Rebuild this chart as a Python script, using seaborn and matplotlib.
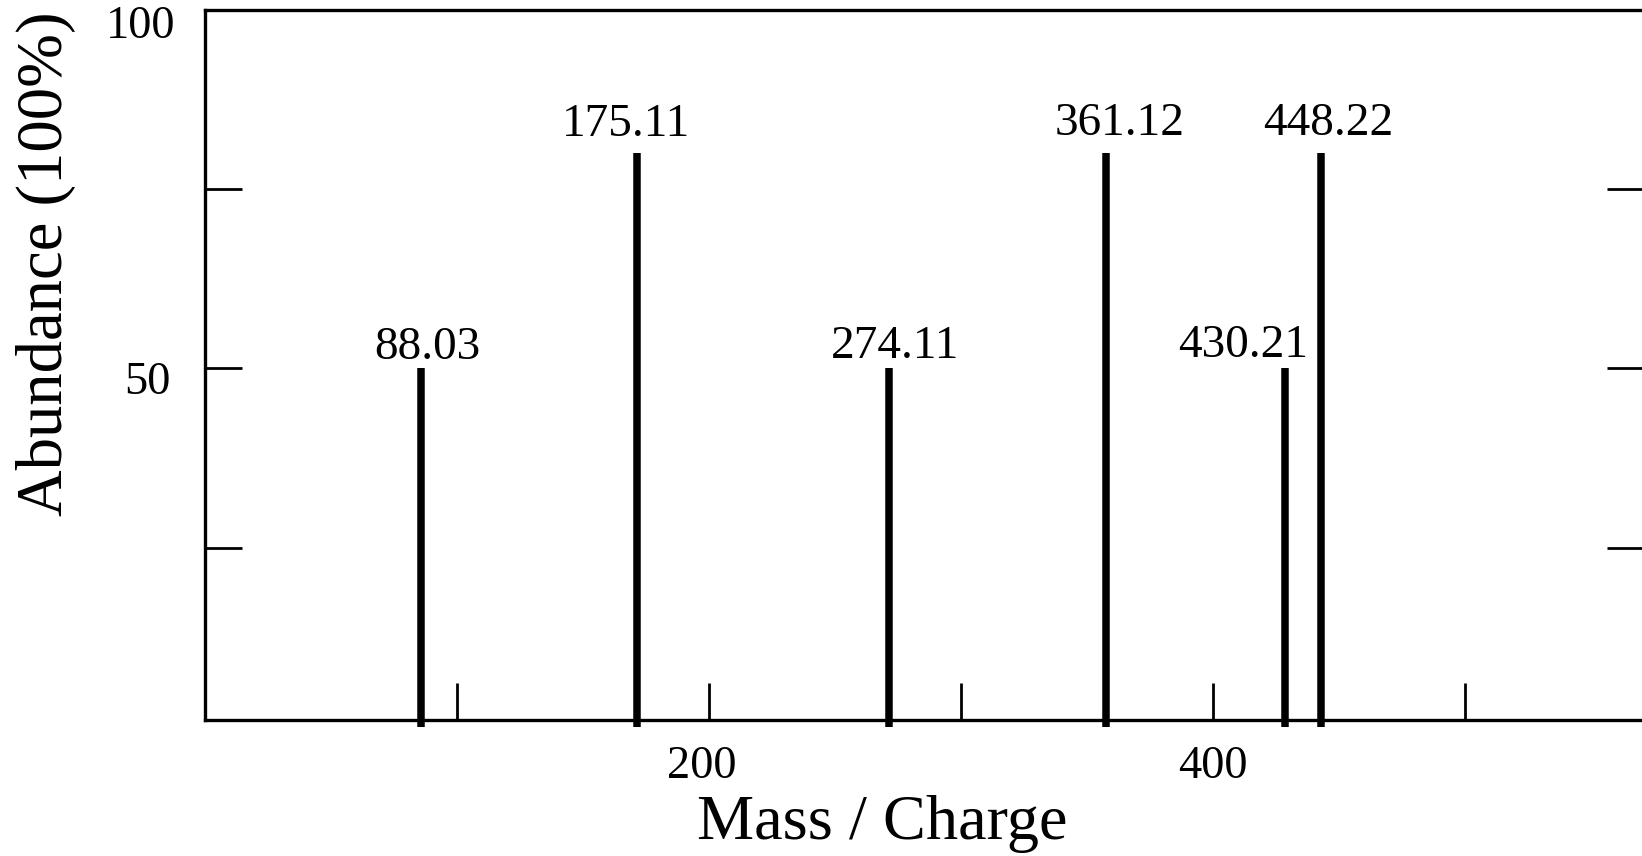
import matplotlib
matplotlib.use('Agg')
import matplotlib.pyplot as plt
import matplotlib.transforms as mtransforms
import seaborn as sns

# peaks
peak_mz = [85.9, 171.5, 271.6, 357.7, 428.9, 443.2]
peak_abundance = [50, 80, 50, 80, 50, 80]
peak_labels = ['88.03', '175.11', '274.11', '361.12', '430.21', '448.22']

x_ticks = [100, 200, 300, 400, 500]
x_tick_labels = ['', '200', '', '400', '']
y_ticks = [25, 50, 75, 100]
y_tick_labels = ['', '50', '', '100']

# label nudges in pixels (horizontal, above the stem top)
label_dx = [6.5, -10.7, 6, 13.3, -42, 7]
label_dy = [9, 17, 10, 18, 11, 18]

sns.set_theme(style='ticks')
plt.rcParams['font.family'] = ['Liberation Serif', 'DejaVu Serif']
plt.rcParams['text.color'] = 'black'
plt.rcParams['axes.labelcolor'] = 'black'

fig = plt.figure(figsize=(16.42, 8.56), dpi=100)
ax = fig.add_axes([0.1247, 0.1589, 0.8768, 0.8300])

ax.vlines(peak_mz, 0, peak_abundance, colors='black', linewidth=5.4, clip_on=False)

ax.set_xlim(0, 571.4)
ax.set_ylim(1.0, 100)
ax.set_xticks(x_ticks, x_tick_labels)
ax.set_yticks(y_ticks, y_tick_labels)
ax.tick_params(direction='in', length=26.6, width=2.0, color='black',
               labelcolor='black', labelsize=33.5, left=True, right=True,
               bottom=True, top=False)
ax.tick_params(axis='x', pad=18.5)
ax.tick_params(axis='y', pad=21.4)

for sp in ax.spines.values():
    sp.set_linewidth(2.4)
    sp.set_color('black')

# small nudges of the tick labels, in pixels (right, down)
y_shift = {'50': (-4, 9), '100': (0, 12)}
x_shift = {'200': (-7, 0)}
for labs, shifts in [(ax.get_yticklabels(), y_shift), (ax.get_xticklabels(), x_shift)]:
    for lab in labs:
        dx, dy = shifts.get(lab.get_text(), (0, 0))
        off = mtransforms.ScaledTranslation(dx / 100, -dy / 100, fig.dpi_scale_trans)
        lab.set_transform(lab.get_transform() + off)

for x, y, lab, dx, dy in zip(peak_mz, peak_abundance, peak_labels, label_dx, label_dy):
    ax.annotate(lab, (x, y), xytext=(dx * 0.72, dy * 0.72), textcoords='offset points',
                ha='center', va='baseline', fontsize=34, annotation_clip=False)

ax.set_xlabel('Mass / Charge', fontsize=46.3)
ax.xaxis.set_label_coords(0.4706, -0.1056)
ax.set_ylabel('Abundance (100%)', fontsize=46.5)
ax.yaxis.set_label_coords(-0.0894, 0.6425)

fig.savefig('out.png', dpi=100)
